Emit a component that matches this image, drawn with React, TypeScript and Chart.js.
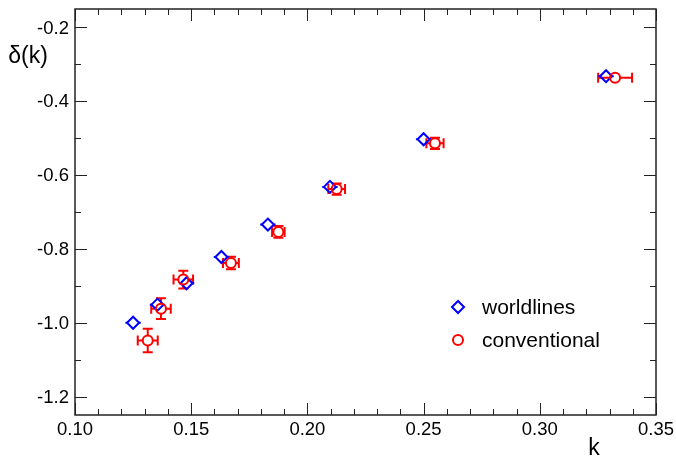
import React, { useEffect, useRef } from 'react';
import { Chart, registerables } from 'chart.js';

Chart.register(...registerables);

// worldlines (blue diamonds)
const kWorld = [0.125, 0.1355, 0.148, 0.163, 0.183, 0.2097, 0.250, 0.3285];
const deltaWorld = [-1.0, -0.951, -0.893, -0.822, -0.734, -0.632, -0.503, -0.332];
const kWorldErr = [0.0033, 0.0033, 0.0033, 0.0033, 0.0033, 0.0033, 0.0033, 0.0033];

// conventional (red circles)
const kConv = [0.1313, 0.137, 0.1466, 0.1671, 0.1875, 0.2126, 0.2549, 0.3324];
const deltaConv = [-1.048, -0.962, -0.883, -0.838, -0.754, -0.638, -0.514, -0.336];
const kConvErr = [0.0043, 0.0042, 0.0042, 0.0034, 0.0027, 0.0036, 0.0037, 0.0073];
const deltaConvErr = [0.032, 0.028, 0.024, 0.017, 0.016, 0.015, 0.015, 0.008];

const xTicks = [0.10, 0.15, 0.20, 0.25, 0.30, 0.35];
const yTicks = [-1.2, -1.0, -0.8, -0.6, -0.4, -0.2];
const xMinorStep = 0.01;
const yMinorStep = 0.1;

const seriesNames = ['worldlines', 'conventional'];
const xTitle = 'k';
const yTitle = 'δ(k)';

const FONT = '"Liberation Sans", Arial, Helvetica, sans-serif';
const BLUE = '#0000ff';
const RED = '#ff0000';

function drawErr(ctx: CanvasRenderingContext2D, chart: any, xs: number[], ys: number[], exs: number[], eys: number[] | null, color: string, gap: number, caps: boolean) {
  const xs_ = chart.scales.x;
  const ys_ = chart.scales.y;
  ctx.save();
  ctx.strokeStyle = color;
  ctx.lineWidth = 2;
  const cap = 5;
  for (let i = 0; i < xs.length; i++) {
    const px = xs_.getPixelForValue(xs[i]);
    const py = ys_.getPixelForValue(ys[i]);
    const xl = xs_.getPixelForValue(xs[i] - exs[i]);
    const xr = xs_.getPixelForValue(xs[i] + exs[i]);
    ctx.beginPath();
    if (px - xl > gap) {
      ctx.moveTo(xl, py); ctx.lineTo(px - gap, py);
      ctx.moveTo(px + gap, py); ctx.lineTo(xr, py);
    }
    if (caps) {
      ctx.moveTo(xl, py - cap); ctx.lineTo(xl, py + cap);
      ctx.moveTo(xr, py - cap); ctx.lineTo(xr, py + cap);
    }
    if (eys) {
      const yt = ys_.getPixelForValue(ys[i] + eys[i]);
      const yb = ys_.getPixelForValue(ys[i] - eys[i]);
      if (py - yt > gap) {
        ctx.moveTo(px, yt); ctx.lineTo(px, py - gap);
        ctx.moveTo(px, py + gap); ctx.lineTo(px, yb);
        if (caps) {
          ctx.moveTo(px - cap, yt); ctx.lineTo(px + cap, yt);
          ctx.moveTo(px - cap, yb); ctx.lineTo(px + cap, yb);
        }
      }
    }
    ctx.stroke();
  }
  ctx.restore();
}

const errorBarPlugin = {
  id: 'errorBars',
  beforeDatasetsDraw(chart: any) {
    const ctx = chart.ctx;
    drawErr(ctx, chart, kConv, deltaConv, kConvErr, deltaConvErr, RED, 5, true);
    drawErr(ctx, chart, kWorld, deltaWorld, kWorldErr, null, BLUE, 6, false);
  },
};

const framePlugin = {
  id: 'frame',
  afterDraw(chart: any) {
    const ctx = chart.ctx;
    const { left, right, top, bottom } = chart.chartArea;
    const sx = chart.scales.x;
    const sy = chart.scales.y;
    ctx.save();
    ctx.strokeStyle = '#222';
    ctx.lineWidth = 1.5;
    ctx.strokeRect(left, top, right - left, bottom - top);
    ctx.lineWidth = 1;
    ctx.beginPath();
    // x ticks
    for (let v = sx.min; v <= sx.max + 1e-9; v += xMinorStep) {
      const r = Math.round(v * 1000) / 1000;
      const isMajor = Math.abs(r / 0.05 - Math.round(r / 0.05)) < 1e-6;
      const len = isMajor ? 12 : 6;
      const px = Math.round(sx.getPixelForValue(r)) + 0.5;
      ctx.moveTo(px, bottom); ctx.lineTo(px, bottom - len);
      ctx.moveTo(px, top); ctx.lineTo(px, top + len);
    }
    // y ticks
    for (let v = -1.2; v <= -0.2 + 1e-9; v += yMinorStep) {
      const r = Math.round(v * 1000) / 1000;
      const isMajor = Math.abs(r / 0.2 - Math.round(r / 0.2)) < 1e-6;
      const len = isMajor ? 12 : 6;
      const py = Math.round(sy.getPixelForValue(r)) + 0.5;
      ctx.moveTo(left, py); ctx.lineTo(left + len, py);
      ctx.moveTo(right, py); ctx.lineTo(right - len, py);
    }
    ctx.stroke();

    // tick labels
    ctx.fillStyle = '#000';
    ctx.font = `18.5px ${FONT}`;
    ctx.textAlign = 'center';
    ctx.textBaseline = 'middle';
    xTicks.forEach((v) => {
      ctx.fillText(v.toFixed(2), sx.getPixelForValue(v), bottom + 15);
    });
    ctx.textAlign = 'right';
    yTicks.forEach((v) => {
      ctx.fillText(v.toFixed(1), left - 6, sy.getPixelForValue(v) + 1);
    });

    // axis titles
    ctx.font = `23px ${FONT}`;
    ctx.textAlign = 'center';
    ctx.textBaseline = 'middle';
    ctx.fillText(yTitle, 28, 57);
    ctx.fillText(xTitle, 594, 449);

    // legend
    const lx = 458;
    const ly1 = 307;
    const ly2 = 340;
    ctx.lineWidth = 2;
    ctx.strokeStyle = BLUE;
    ctx.beginPath();
    ctx.moveTo(lx - 6, ly1); ctx.lineTo(lx, ly1 - 6); ctx.lineTo(lx + 6, ly1); ctx.lineTo(lx, ly1 + 6); ctx.closePath();
    ctx.stroke();
    ctx.strokeStyle = RED;
    ctx.beginPath();
    ctx.arc(lx, ly2, 5, 0, Math.PI * 2);
    ctx.stroke();
    ctx.font = `21px ${FONT}`;
    ctx.textAlign = 'left';
    ctx.fillStyle = '#000';
    ctx.fillText(seriesNames[0], 482, ly1 + 1);
    ctx.fillText(seriesNames[1], 482, ly2 + 1);
    ctx.restore();
  },
};

export default function App() {
  const canvasRef = useRef<HTMLCanvasElement | null>(null);

  useEffect(() => {
    if (!canvasRef.current) return;
    const chart = new Chart(canvasRef.current, {
      type: 'scatter',
      data: {
        datasets: [
          {
            label: seriesNames[1],
            data: kConv.map((k, i) => ({ x: k, y: deltaConv[i] })),
            pointStyle: 'circle',
            pointRadius: 5,
            pointBorderWidth: 2,
            borderColor: RED,
            backgroundColor: 'rgba(0,0,0,0)',
            pointBackgroundColor: 'rgba(0,0,0,0)',
            pointBorderColor: RED,
          },
          {
            label: seriesNames[0],
            data: kWorld.map((k, i) => ({ x: k, y: deltaWorld[i] })),
            pointStyle: 'rectRot',
            pointRadius: 6,
            pointBorderWidth: 2,
            borderColor: BLUE,
            backgroundColor: 'rgba(0,0,0,0)',
            pointBackgroundColor: 'rgba(0,0,0,0)',
            pointBorderColor: BLUE,
          },
        ],
      },
      options: {
        animation: false,
        responsive: true,
        maintainAspectRatio: false,
        layout: { padding: { left: 0, right: 20, top: 9, bottom: 0 } },
        plugins: { legend: { display: false }, tooltip: { enabled: false } },
        scales: {
          x: {
            type: 'linear',
            min: 0.10,
            max: 0.35,
            grid: { display: false, drawTicks: false },
            border: { display: false },
            afterBuildTicks: (s: any) => { s.ticks = xTicks.map((v) => ({ value: v })); },
            afterFit: (s: any) => { s.height = 46; },
            ticks: { display: false },
          },
          y: {
            type: 'linear',
            min: -1.25,
            max: -0.15,
            grid: { display: false, drawTicks: false },
            border: { display: false },
            afterBuildTicks: (s: any) => { s.ticks = yTicks.map((v) => ({ value: v })); },
            afterFit: (s: any) => { s.width = 75; },
            ticks: { display: false },
          },
        },
      },
      plugins: [errorBarPlugin, framePlugin],
    });
    return () => chart.destroy();
  }, []);

  return (
    <div style={{ position: 'fixed', left: 0, top: 0, width: 676, height: 461, background: '#fff' }}>
      <canvas ref={canvasRef} />
    </div>
  );
}
